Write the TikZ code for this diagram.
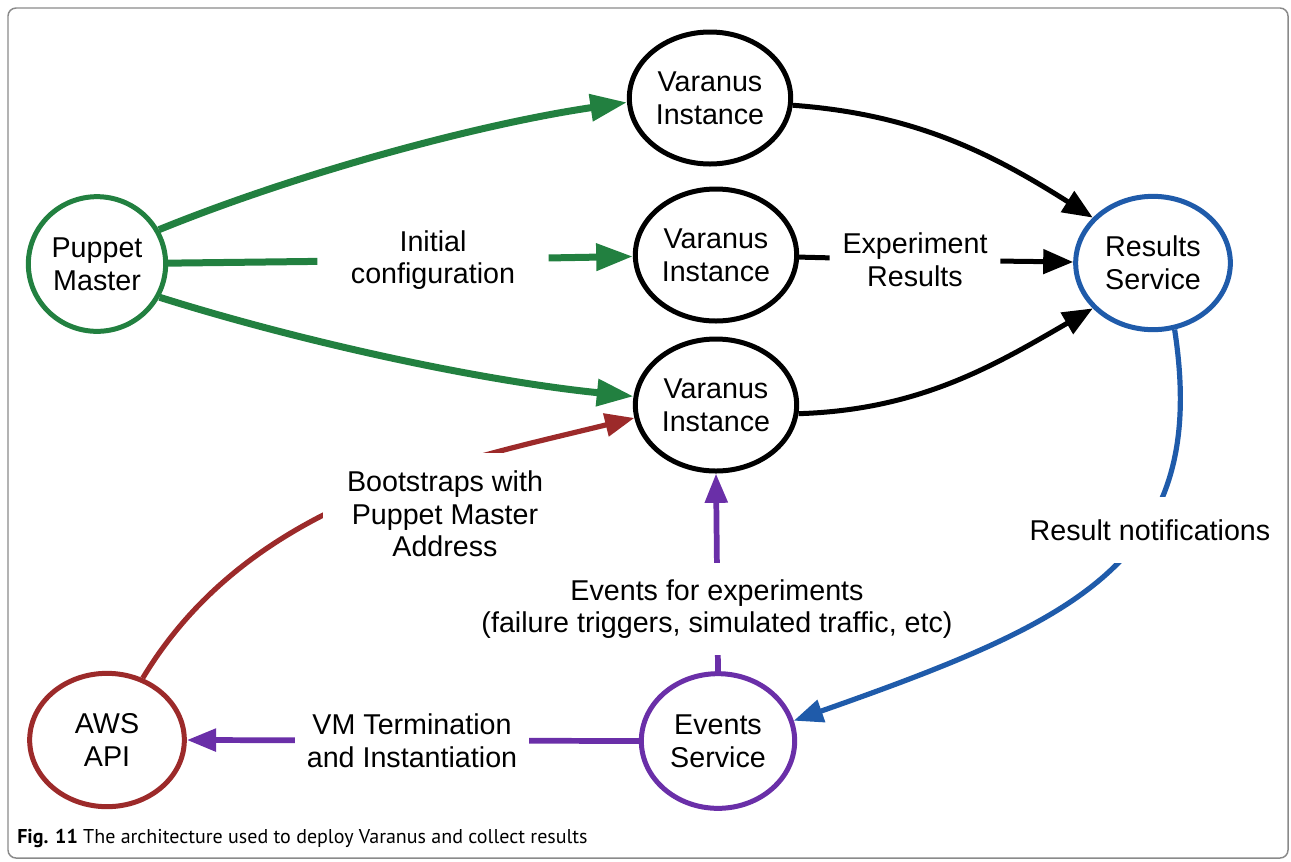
\documentclass[tikz,border=0pt]{standalone}
\usepackage{fontspec}
\setmainfont{Liberation Sans}
\newfontfamily\capfont{PT Sans}
\usetikzlibrary{shapes.geometric,arrows.meta}

\definecolor{pgreen}{HTML}{228040}
\definecolor{pred}{HTML}{9C2A2A}
\definecolor{pblue}{HTML}{1F5BAA}
\definecolor{ppurple}{HTML}{6A2FA8}
\definecolor{frame}{HTML}{8A8A8A}

\begin{document}
\begin{tikzpicture}[x=0.75pt,y=-0.75pt,
  every node/.style={font=\fontsize{21.5}{24.5}\selectfont},
  circ/.style={ellipse,draw,line width=3.75pt,align=center,inner sep=0pt},
  vnode/.style={circ,draw=black,minimum width=121pt,minimum height=99pt},
  lbl/.style={align=center,fill=white,inner sep=0pt},
  greenarrow/.style={draw=pgreen,line width=5.25pt,
    -{Triangle[length=27.5pt,width=19.5pt]}},
  greenline/.style={draw=pgreen,line width=5.25pt},
  blackarrow/.style={draw=black,line width=3.75pt,
    -{Triangle[length=22.5pt,width=18pt]}},
  blackline/.style={draw=black,line width=3.75pt},
  redarrow/.style={draw=pred,line width=3.9pt,
    -{Triangle[length=22pt,width=17pt]}},
  bluearrow/.style={draw=pblue,line width=3.9pt,
    -{Triangle[length=22pt,width=17pt]}},
  purplearrow/.style={draw=ppurple,line width=4.3pt,
    -{Triangle[length=22pt,width=16.5pt]}}]

\useasboundingbox (0,0) rectangle (1291,861);
\draw[rounded corners=6pt,line width=1.1pt,draw=frame] (8,8) rectangle (1288,858);

% components
\node[circ,draw=pgreen,minimum width=103pt,minimum height=101pt] (pm) at (97,264) {Puppet\\Master};
\node[vnode] (vt) at (710,98) {Varanus\\Instance};
\node[vnode] (vm) at (716,255) {Varanus\\Instance};
\node[vnode] (vb) at (716,405) {Varanus\\Instance};
\node[circ,draw=pblue,minimum width=116pt,minimum height=100pt] (rs) at (1153,263) {Results\\Service};
\node[circ,draw=pred,minimum width=116pt,minimum height=100pt] (aws) at (107,740) {AWS\\API};
\node[circ,draw=ppurple,minimum width=115pt,minimum height=101pt] (ev) at (718,741) {Events\\Service};

% labels that split straight connectors
\node[align=center,inner xsep=25pt,inner ysep=2pt] (init) at (433,260) {Initial\\configuration};
\node[align=center,inner xsep=9.5pt,inner ysep=2pt] (exp) at (915,260) {Experiment\\Results};

% configuration from the Puppet master
\draw[greenarrow] (pm.29) .. controls (301,172) and (480,124) .. (vt.183);
\draw[greenline] (pm) -- (init);
\draw[greenarrow] (init) -- (vm);
\draw[greenarrow] (pm.-28) .. controls (305,343) and (483,381) .. (vb.174);

% bootstrapping from AWS
\draw[redarrow] (aws.60) .. controls (250,500) and (455,462) .. (vb.189);

% results collection
\draw[blackarrow] (vt.-5) .. controls (912,114) and (988,151) .. (rs.143);
\draw[blackline] (vm) -- (exp);
\draw[blackarrow] (exp) -- (rs);
\draw[blackarrow] (vb.-6) .. controls (920,410) and (995,365) .. (rs.217);

% notifications and events
\draw[bluearrow] (rs.-72) .. controls (1210,560) and (1080,620) .. (ev.15);
\draw[purplearrow] (ev.north) -- (vb.south);
\draw[purplearrow] (ev.west) -- (aws.east);

% labels laid over curved connectors
\node[lbl,inner xsep=18pt,inner ysep=13pt] (boot) at (445,514) {Bootstraps with\\Puppet Master\\Address};
\node[lbl,inner xsep=3pt,inner ysep=17pt] (notif) at (1150,530) {Result notifications};
\node[lbl,inner xsep=6pt,inner ysep=12pt] (evlbl) at (717,609) {Events for experiments\\(failure triggers, simulated traffic, etc)};
\node[lbl,inner xsep=9pt,inner ysep=6pt] (vmlbl) at (412,741) {VM Termination\\and Instantiation};

% caption
\node[anchor=base west,inner sep=0pt,font=\capfont\fontsize{15}{17}\selectfont] (cap) at (17,843)
  {\textbf{Fig. 11} The architecture used to deploy Varanus and collect results};
\end{tikzpicture}
\end{document}
